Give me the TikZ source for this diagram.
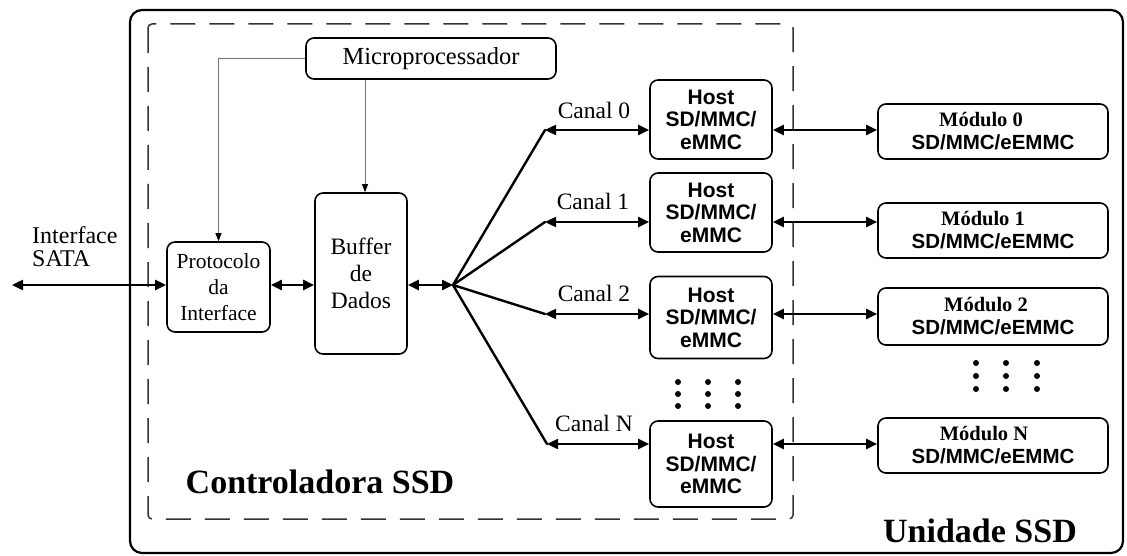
\documentclass[tikz,border=0pt]{standalone}
\usepackage{fontspec}
\setmainfont{Liberation Serif}
\newfontfamily\hostfont{Liberation Sans}
\usetikzlibrary{arrows.meta}
\begin{document}
\begin{tikzpicture}[x=1pt,y=-1pt,
  box/.style={draw, line width=1.6pt, rounded corners=8pt, inner sep=0pt, align=center},
  serif/.style={font=\fontsize{23.5}{26}\selectfont},
  hosttxt/.style={font=\hostfont\bfseries\fontsize{21}{22.5}\selectfont},
  modtxt/.style={font=\fontsize{20.5}{23}\selectfont},
  bigtxt/.style={font=\bfseries\fontsize{34}{40}\selectfont},
  bus/.style={line width=2.4pt},
  dbl/.style={bus, {Triangle[length=11pt,width=10pt]}-{Triangle[length=11pt,width=10pt]}},
  ctl/.style={draw=black!55, line width=1pt, -{Triangle[length=8pt,width=6pt,fill=black,color=black]}},
  dotm/.style={fill=black}
]
\useasboundingbox (0,0) rectangle (1127,556);
% outer and dashed boxes
\draw[line width=2.2pt, rounded corners=12pt] (130,10) rectangle (1123,553);
\draw[black!80, line width=1.5pt, dash pattern=on 25pt off 14pt, rounded corners=4pt] (148,24) rectangle (793,519);

% nodes
\node[box, font=\fontsize{24.5}{26}\selectfont, minimum width=250pt, minimum height=41pt] (micro) at (431,58.5) {Microprocessador};
\node[box, font=\fontsize{21.5}{26}\selectfont, minimum width=103pt, minimum height=90pt] (proto) at (218.5,287) {Protocolo\\da\\Interface};
\node[box, font=\fontsize{23.5}{27}\selectfont, minimum width=92pt, minimum height=161pt] (buf) at (361,273.5) {Buffer\\de\\Dados};

\node[box, hosttxt, minimum width=122pt, minimum height=79pt] (h0) at (711,119.5) {Host\\SD/MMC/\\eMMC};
\node[box, hosttxt, minimum width=122pt, minimum height=79pt] (h1) at (711,212.5) {Host\\SD/MMC/\\eMMC};
\node[box, hosttxt, minimum width=122pt, minimum height=82pt] (h2) at (711,317.5) {Host\\SD/MMC/\\eMMC};
\node[box, hosttxt, minimum width=122pt, minimum height=86pt] (hN) at (711,464) {Host\\SD/MMC/\\eMMC};

\node[box, modtxt, minimum width=230pt, minimum height=55pt] (m0) at (993,131.5) {\bfseries Módulo 0\hspace*{24pt}\\{\hostfont\bfseries SD/MMC/eEMMC}};
\node[box, modtxt, minimum width=230pt, minimum height=55pt] (m1) at (993,230.5) {\bfseries Módulo 1\hspace*{20pt}\\{\hostfont\bfseries SD/MMC/eEMMC}};
\node[box, modtxt, minimum width=230pt, minimum height=57pt] (m2) at (993,316.5) {\bfseries Módulo 2\hspace*{14pt}\\{\hostfont\bfseries SD/MMC/eEMMC}};
\node[box, modtxt, minimum width=230pt, minimum height=55pt] (mN) at (993,445.5) {\bfseries Módulo N\hspace*{18pt}\\{\hostfont\bfseries SD/MMC/eEMMC}};

% labels
\node[align=left, anchor=west, inner sep=0pt, font=\fontsize{24}{23}\selectfont] (sata) at (32,246.5) {Interface\\SATA};
\node[serif] (l0) at (594,110) {Canal 0};
\node[serif] (l1) at (593,201) {Canal 1};
\node[serif] (l2) at (594,293) {Canal 2};
\node[serif] (lN) at (594,423) {Canal N};
\node[bigtxt] (ctrl) at (320,482) {Controladora SSD};
\node[bigtxt] (unid) at (980,531) {Unidade SSD};

% coordinates
\coordinate (satal) at (12,285);
\coordinate (fan) at (453,285);
\coordinate (c0) at (545,130);
\coordinate (c1) at (545,222);
\coordinate (c2) at (545,314);
\coordinate (cN) at (547,444);
\coordinate (mx) at (365,0);

% control lines
\draw[ctl] (micro.west) -| (proto.north);
\draw[ctl] (micro.south -| mx) -- (buf.north -| mx);

% data bus
\draw[dbl] (satal) -- (satal -| proto.west);
\draw[dbl] (fan -| proto.east) -- (fan -| buf.west);
\draw[dbl] (fan -| buf.east) -- (fan);
\foreach \c in {c0,c1,c2,cN} \draw[bus, line cap=round] (fan) -- (\c);
\draw[dbl] (c0) -- (c0 -| h0.west);
\draw[dbl] (c1) -- (c1 -| h1.west);
\draw[dbl] (c2) -- (c2 -| h2.west);
\draw[dbl] (cN) -- (cN -| hN.west);
\draw[dbl] (h0.east |- c0) -- (m0.west |- c0);
\draw[dbl] (h1.east |- c1) -- (m1.west |- c1);
\draw[dbl] (h2.east |- c2) -- (m2.west |- c2);
\draw[dbl] (hN.east |- cN) -- (mN.west |- cN);

% dots
\foreach \x in {678,708,738} \foreach \y in {382,394,406} \fill[dotm] (\x,\y) circle (3pt);
\foreach \x in {976,1006,1037} \foreach \y in {363,376,389} \fill[dotm] (\x,\y) circle (3pt);
\end{tikzpicture}
\end{document}
